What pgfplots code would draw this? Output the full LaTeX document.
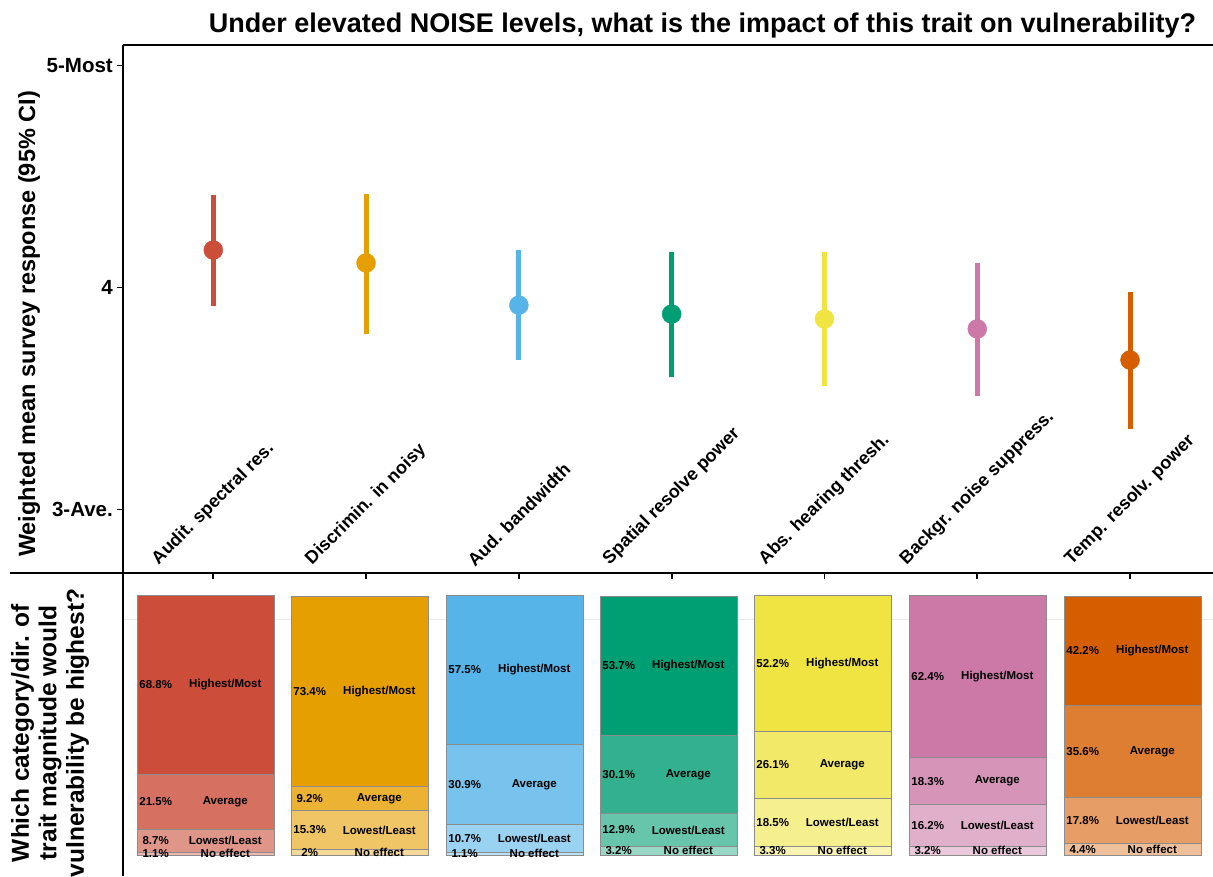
\documentclass[border=0pt]{standalone}
\usepackage{pgfplots}
\pgfplotsset{compat=1.18}
\usepackage{fontspec}
\setmainfont{Liberation Sans}

\definecolor{c1}{RGB}{204,78,58}
\definecolor{c2}{RGB}{230,159,0}
\definecolor{c3}{RGB}{86,180,233}
\definecolor{c4}{RGB}{0,158,115}
\definecolor{c5}{RGB}{240,228,66}
\definecolor{c6}{RGB}{204,121,167}
\definecolor{c7}{RGB}{213,94,0}

\pgfplotsset{
  barax/.style={
    scale only axis, width=137.5pt, height=303pt,
    xmin=0.5, xmax=1.5, ymin=-8.1, ymax=108.9,
    ybar stacked, bar width=137.5pt, hide axis, clip=false,
    anchor=south west,
    every axis plot/.append style={draw=black!45, line width=0.7pt},
  },
}
\tikzset{
  pl/.style={font=\bfseries\fontsize{11.5}{12}\selectfont, inner sep=0pt},
}

\begin{document}
\begin{tikzpicture}
\path[use as bounding box] (0pt,0pt) rectangle (1213pt,876pt);

% title
\node[anchor=base, font=\bfseries\fontsize{27}{30}\selectfont] at (702.5pt,843pt)
  {Under elevated NOISE levels, what is the impact of this trait on vulnerability?};

% upper panel: weighted means with 95% CI
\begin{axis}[
  at={(123pt,303pt)}, anchor=south west,
  scale only axis, width=1090pt, height=528pt,
  xmin=0.409, xmax=7.543, ymin=2.713, ymax=5.0905,
  xtick={1,2,3,4,5,6,7}, xticklabels={},
  ytick={3,4,5}, yticklabels={3-Ave.,4,5-Most},
  tick align=outside, xtick pos=bottom, ytick pos=left,
  major tick length=6pt,
  axis line style={draw=none},
  xtick style={black, line width=1.8pt},
  ytick style={black, line width=1pt},
  yticklabel style={font=\bfseries\fontsize{20.5}{22}\selectfont, inner sep=0pt, xshift=-4pt},
  clip=false,
]
\addplot[c1, line width=5pt] coordinates {(1,3.915) (1,4.415)};
\addplot[c1, only marks, mark=*, mark size=9.5pt] coordinates {(1,4.167)};
\addplot[c2, line width=5pt] coordinates {(2,3.789) (2,4.420)};
\addplot[c2, only marks, mark=*, mark size=9.5pt] coordinates {(2,4.109)};
\addplot[c3, line width=5pt] coordinates {(3,3.672) (3,4.167)};
\addplot[c3, only marks, mark=*, mark size=9.5pt] coordinates {(3,3.919)};
\addplot[c4, line width=5pt] coordinates {(4,3.596) (4,4.158)};
\addplot[c4, only marks, mark=*, mark size=9.5pt] coordinates {(4,3.879)};
\addplot[c5, line width=5pt] coordinates {(5,3.555) (5,4.158)};
\addplot[c5, only marks, mark=*, mark size=9.5pt] coordinates {(5,3.857)};
\addplot[c6, line width=5pt] coordinates {(6,3.510) (6,4.109)};
\addplot[c6, only marks, mark=*, mark size=9.5pt] coordinates {(6,3.812)};
\addplot[c7, line width=5pt] coordinates {(7,3.362) (7,3.979)};
\addplot[c7, only marks, mark=*, mark size=9.5pt] coordinates {(7,3.672)};

% trait names, rotated
\begin{scope}[every node/.style={anchor=south, inner sep=0pt, yshift=5pt,
    font=\bfseries\fontsize{18}{20}\selectfont}]
\node at (axis cs:1,2.713) {\rotatebox{45}{Audit. spectral res.}};
\node at (axis cs:2,2.713) {\rotatebox{45}{Discrimin. in noisy}};
\node at (axis cs:3,2.713) {\rotatebox{45}{Aud. bandwidth}};
\node at (axis cs:4,2.713) {\rotatebox{45}{Spatial resolve power}};
\node at (axis cs:5,2.713) {\rotatebox{45}{Abs. hearing thresh.}};
\node at (axis cs:6,2.713) {\rotatebox{45}{Backgr. noise suppress.}};
\node at (axis cs:7,2.713) {\rotatebox{45}{Temp. resolv. power}};
\end{scope}
\end{axis}

% panel frame lines
\draw[black!8, line width=1pt] (123pt,256pt) -- (1213pt,256pt);
\draw[line width=1.5pt] (123pt,831pt) -- (1213pt,831pt);
\draw[line width=1.2pt] (123pt,0pt) -- (123pt,831pt);
\draw[line width=2.5pt] (10pt,303pt) -- (1213pt,303pt);

% axis titles
\node[rotate=90, font=\bfseries\fontsize{23.5}{26}\selectfont] at (29pt,552pt)
  {Weighted mean survey response (95\% CI)};
\node[rotate=90, align=center, font=\bfseries\fontsize{24.5}{27.5}\selectfont] at (50pt,143pt)
  {Which category/dir. of\\trait magnitude would\\vulnerability be highest?};

% lower panel: share of answers (No effect, Lowest/Least, Average, Highest/Most)
\begin{axis}[barax, at={(137pt,0pt)}]
\addplot[fill=c1!40!white] coordinates {(1,1.1)};
\addplot[fill=c1!60!white] coordinates {(1,8.7)};
\addplot[fill=c1!80!white] coordinates {(1,21.5)};
\addplot[fill=c1] coordinates {(1,68.8)};
\end{axis}
\begin{axis}[barax, at={(291pt,0pt)}]
\addplot[fill=c2!40!white] coordinates {(1,2)};
\addplot[fill=c2!60!white] coordinates {(1,15.3)};
\addplot[fill=c2!80!white] coordinates {(1,9.2)};
\addplot[fill=c2] coordinates {(1,73.4)};
\end{axis}
\begin{axis}[barax, at={(446pt,0pt)}]
\addplot[fill=c3!40!white] coordinates {(1,1.1)};
\addplot[fill=c3!60!white] coordinates {(1,10.7)};
\addplot[fill=c3!80!white] coordinates {(1,30.9)};
\addplot[fill=c3] coordinates {(1,57.5)};
\end{axis}
\begin{axis}[barax, at={(600pt,0pt)}]
\addplot[fill=c4!40!white] coordinates {(1,3.2)};
\addplot[fill=c4!60!white] coordinates {(1,12.9)};
\addplot[fill=c4!80!white] coordinates {(1,30.1)};
\addplot[fill=c4] coordinates {(1,53.7)};
\end{axis}
\begin{axis}[barax, at={(754pt,0pt)}]
\addplot[fill=c5!40!white] coordinates {(1,3.3)};
\addplot[fill=c5!60!white] coordinates {(1,18.5)};
\addplot[fill=c5!80!white] coordinates {(1,26.1)};
\addplot[fill=c5] coordinates {(1,52.2)};
\end{axis}
\begin{axis}[barax, at={(909pt,0pt)}]
\addplot[fill=c6!40!white] coordinates {(1,3.2)};
\addplot[fill=c6!60!white] coordinates {(1,16.2)};
\addplot[fill=c6!80!white] coordinates {(1,18.3)};
\addplot[fill=c6] coordinates {(1,62.4)};
\end{axis}
\begin{axis}[barax, at={(1064pt,0pt)}]
\addplot[fill=c7!40!white] coordinates {(1,4.4)};
\addplot[fill=c7!60!white] coordinates {(1,17.8)};
\addplot[fill=c7!80!white] coordinates {(1,35.6)};
\addplot[fill=c7] coordinates {(1,42.2)};
\end{axis}

% segment labels, set over the bars (x in the same units as the bar positions)
\begin{axis}[
  at={(137pt,0pt)}, anchor=south west, scale only axis,
  width=1064.5pt, height=303pt, xmin=137, xmax=1201.5, ymin=-8.1, ymax=108.9,
  hide axis, clip=false,
]
% bar 1
\node[pl] at (axis cs:155.7,0.55) {1.1\%};   \node[pl] at (axis cs:225.3,0.55) {No effect};
\node[pl] at (axis cs:155.7,5.45) {8.7\%};   \node[pl] at (axis cs:225.3,5.45) {Lowest/Least};
\node[pl] at (axis cs:155.7,20.55) {21.5\%}; \node[pl] at (axis cs:225.3,20.55) {Average};
\node[pl] at (axis cs:155.7,65.7) {68.8\%};  \node[pl] at (axis cs:225.3,65.7) {Highest/Most};
% bar 2
\node[pl] at (axis cs:309.7,1) {2\%};        \node[pl] at (axis cs:379.3,1) {No effect};
\node[pl] at (axis cs:309.7,9.65) {15.3\%};  \node[pl] at (axis cs:379.3,9.65) {Lowest/Least};
\node[pl] at (axis cs:309.7,21.9) {9.2\%};   \node[pl] at (axis cs:379.3,21.9) {Average};
\node[pl] at (axis cs:309.7,63.2) {73.4\%};  \node[pl] at (axis cs:379.3,63.2) {Highest/Most};
% bar 3
\node[pl] at (axis cs:464.7,0.55) {1.1\%};   \node[pl] at (axis cs:534.3,0.55) {No effect};
\node[pl] at (axis cs:464.7,6.45) {10.7\%};  \node[pl] at (axis cs:534.3,6.45) {Lowest/Least};
\node[pl] at (axis cs:464.7,27.25) {30.9\%}; \node[pl] at (axis cs:534.3,27.25) {Average};
\node[pl] at (axis cs:464.7,71.45) {57.5\%}; \node[pl] at (axis cs:534.3,71.45) {Highest/Most};
% bar 4
\node[pl] at (axis cs:618.7,1.6) {3.2\%};    \node[pl] at (axis cs:688.3,1.6) {No effect};
\node[pl] at (axis cs:618.7,9.65) {12.9\%};  \node[pl] at (axis cs:688.3,9.65) {Lowest/Least};
\node[pl] at (axis cs:618.7,31.15) {30.1\%}; \node[pl] at (axis cs:688.3,31.15) {Average};
\node[pl] at (axis cs:618.7,73.05) {53.7\%}; \node[pl] at (axis cs:688.3,73.05) {Highest/Most};
% bar 5
\node[pl] at (axis cs:772.7,1.65) {3.3\%};   \node[pl] at (axis cs:842.3,1.65) {No effect};
\node[pl] at (axis cs:772.7,12.55) {18.5\%}; \node[pl] at (axis cs:842.3,12.55) {Lowest/Least};
\node[pl] at (axis cs:772.7,34.85) {26.1\%}; \node[pl] at (axis cs:842.3,34.85) {Average};
\node[pl] at (axis cs:772.7,74.0) {52.2\%};  \node[pl] at (axis cs:842.3,74.0) {Highest/Most};
% bar 6
\node[pl] at (axis cs:927.7,1.6) {3.2\%};    \node[pl] at (axis cs:997.3,1.6) {No effect};
\node[pl] at (axis cs:927.7,11.3) {16.2\%};  \node[pl] at (axis cs:997.3,11.3) {Lowest/Least};
\node[pl] at (axis cs:927.7,28.55) {18.3\%}; \node[pl] at (axis cs:997.3,28.55) {Average};
\node[pl] at (axis cs:927.7,68.9) {62.4\%};  \node[pl] at (axis cs:997.3,68.9) {Highest/Most};
% bar 7
\node[pl] at (axis cs:1082.7,2.2) {4.4\%};   \node[pl] at (axis cs:1152.3,2.2) {No effect};
\node[pl] at (axis cs:1082.7,13.3) {17.8\%}; \node[pl] at (axis cs:1152.3,13.3) {Lowest/Least};
\node[pl] at (axis cs:1082.7,40.0) {35.6\%}; \node[pl] at (axis cs:1152.3,40.0) {Average};
\node[pl] at (axis cs:1082.7,78.9) {42.2\%}; \node[pl] at (axis cs:1152.3,78.9) {Highest/Most};
\end{axis}
\end{tikzpicture}
\end{document}
